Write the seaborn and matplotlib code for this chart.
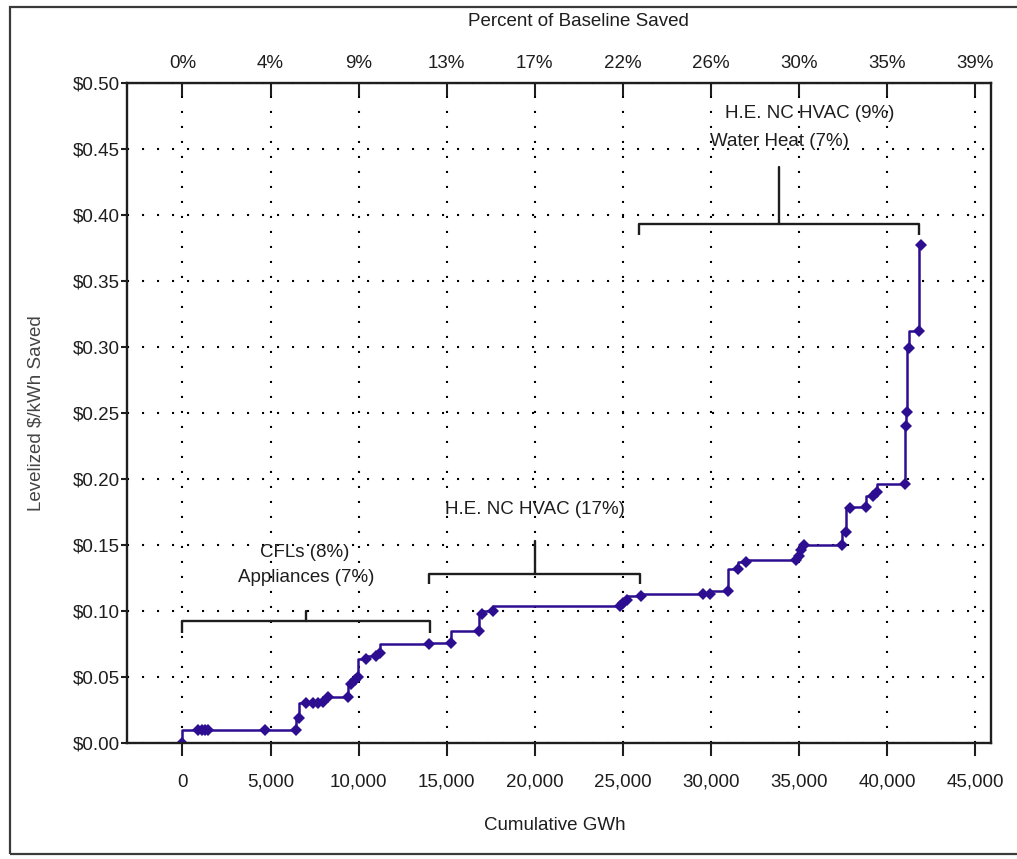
import matplotlib
matplotlib.use("Agg")
import matplotlib.pyplot as plt
import pandas as pd
import seaborn as sns
from matplotlib.patches import Rectangle
from matplotlib.ticker import FuncFormatter

# Conservation supply curve: cumulative savings (GWh) vs levelized cost ($/kWh)
cumulative_gwh = [0, 870, 1100, 1270, 1440, 4670, 6430, 6620, 7040, 7410,
                  7700, 7980, 8260, 9400, 9590, 9780, 9970, 10440, 10970, 11200,
                  14000, 15270, 16830, 17030, 17630, 24820, 25000, 25230, 26050, 29540,
                  29930, 30960, 31530, 32010, 34850, 34990, 35130, 35260, 37430, 37650,
                  37870, 38820, 39190, 39420, 41040, 41080, 41120, 41230, 41840, 41940]
cost_per_kwh = [0.000, 0.010, 0.010, 0.010, 0.010, 0.010, 0.010, 0.019, 0.030, 0.030,
                0.030, 0.031, 0.035, 0.035, 0.045, 0.048, 0.050, 0.064, 0.066, 0.068,
                0.075, 0.076, 0.085, 0.098, 0.100, 0.104, 0.106, 0.108, 0.111, 0.113,
                0.113, 0.115, 0.132, 0.137, 0.139, 0.142, 0.146, 0.150, 0.150, 0.160,
                0.178, 0.179, 0.187, 0.190, 0.196, 0.240, 0.251, 0.299, 0.312, 0.377]

x_ticks = [0, 5000, 10000, 15000, 20000, 25000, 30000, 35000, 40000, 45000]
percent_labels = ["0%", "4%", "9%", "13%", "17%", "22%", "26%", "30%", "35%", "39%"]
y_ticks = [0.00, 0.05, 0.10, 0.15, 0.20, 0.25, 0.30, 0.35, 0.40, 0.45, 0.50]

# Measure groups marked by brackets: span in GWh, bracket level, label lines
group_start = [0, 14000, 25920]
group_end = [14030, 25990, 41840]
group_level = [0.0925, 0.128, 0.393]
group_labels = [["CFLs (8%)", "Appliances (7%)"],
                ["H.E. NC HVAC (17%)"],
                ["H.E. NC HVAC (9%)", "Water Heat (7%)"]]

sns.set_style("white")
plt.rcParams["font.family"] = ["Liberation Sans", "DejaVu Sans"]
FS = 13.5

LINE = "#2d0e91"
INK = "#1e1e1e"

fig = plt.figure(figsize=(10.17, 8.59), dpi=100)
ax = fig.add_axes([127 / 1017, 1 - 743 / 859, (991 - 127) / 1017, (743 - 83) / 859])

df = pd.DataFrame({"gwh": cumulative_gwh, "cost": cost_per_kwh})
sns.lineplot(data=df, x="gwh", y="cost", ax=ax, estimator=None, sort=False,
             color=LINE, lw=1.8, drawstyle="steps-pre",
             marker="D", markersize=6, markeredgewidth=0, markerfacecolor=LINE)

ax.set_xlim(-3150, 45900)
ax.set_ylim(0, 0.5)
ax.set_xticks(x_ticks)
ax.set_xticklabels([f"{v:,}" for v in x_ticks])
ax.set_yticks(y_ticks)
ax.yaxis.set_major_formatter(FuncFormatter(lambda v, _: f"${v:.2f}"))

ax.grid(True, color="black", linestyle=(0, (1, 6.2)), linewidth=1.5)
for s in ax.spines.values():
    s.set_color(INK)
    s.set_linewidth(1.7)
ax.tick_params(axis="x", direction="out", length=9, width=1.5, pad=13,
               colors=INK, labelsize=FS, bottom=True)
ax.tick_params(axis="y", direction="out", length=4, width=1.5, pad=1,
               colors=INK, labelsize=FS, left=True)

ax.set_xlabel("Cumulative GWh", fontsize=FS, color=INK, va="center")
ax.xaxis.set_label_coords((555 - 127) / 864, (743 - 826) / 660)
ax.set_ylabel("Levelized $/kWh Saved", fontsize=FS, color="#444444", va="center")
ax.yaxis.set_label_coords((36 - 127) / 864, 0.5)

top = ax.secondary_xaxis("top")
top.set_xticks(x_ticks)
top.set_xticklabels(percent_labels)
top.tick_params(direction="in", length=9, width=1.5, pad=8, colors=INK, labelsize=FS)
fig.text(578 / 1017, 1 - 22 / 859, "Percent of Baseline Saved",
         ha="center", va="center", fontsize=FS, color=INK)

# Group brackets with a centre stem and label
tick_drop = [0.0092, 0.0075, 0.0078]
stem_rise = [0.0075, 0.025, 0.043]
label_offsets = [[0.052, 0.033], [0.049], [0.084, 0.063]]
label_shift = [[-100, 0], [0], [1700, 0]]
for i in range(len(group_start)):
    x0, x1, lv = group_start[i], group_end[i], group_level[i]
    xm = (x0 + x1) / 2
    ax.plot([x0, x0, x1, x1], [lv - tick_drop[i], lv, lv, lv - tick_drop[i]],
            color=INK, lw=1.7, solid_capstyle="butt", zorder=4)
    ax.plot([xm, xm], [lv, lv + stem_rise[i]], color=INK, lw=1.7, zorder=4)
    for text, dy, dx in zip(group_labels[i], label_offsets[i], label_shift[i]):
        ax.text(xm + dx, lv + dy, text, ha="center", va="center",
                fontsize=FS, color=INK, zorder=5)

# Outer frame
fig.patches.append(Rectangle((10 / 1017, 1 - 854 / 859), 1.02, (854 - 7) / 859,
                             transform=fig.transFigure, fill=False,
                             edgecolor="#3a3a3a", linewidth=1.6))

fig.savefig("out.png", dpi=100)
